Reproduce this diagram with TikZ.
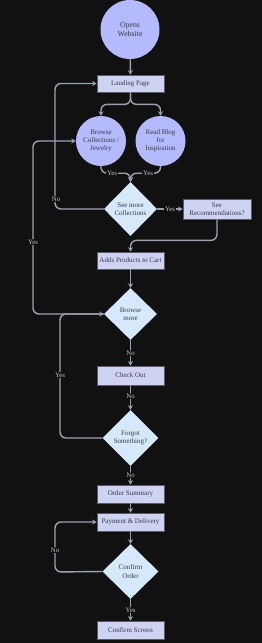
\documentclass[tikz,border=0pt]{standalone}
\usepackage{fontspec}
\setmainfont{Liberation Serif}
\usetikzlibrary{shapes.geometric,arrows.meta,calc}
\definecolor{bg}{HTML}{111111}
\definecolor{circ}{HTML}{B4BAFB}
\definecolor{rectf}{HTML}{CDD3F1}
\definecolor{diam}{HTML}{D6E8FB}
\definecolor{edge}{HTML}{9AA2B2}
\definecolor{ntext}{HTML}{3A3A4A}
\definecolor{ltext}{HTML}{C8C8C8}
\definecolor{bord}{HTML}{5A5A6A}
\tikzset{
  circnode/.style={circle,fill=circ,draw=none,text=ntext,align=center,inner sep=0pt,font=\fontsize{7}{8.3}\selectfont},
  boxnode/.style={rectangle,fill=rectf,draw=bord,line width=0.7pt,text=ntext,align=center,inner sep=1pt,minimum width=67pt,minimum height=18pt,font=\fontsize{7}{8}\selectfont},
  diamnode/.style={diamond,fill=diam,draw=none,text=ntext,align=center,inner sep=0pt,font=\fontsize{7}{8.3}\selectfont},
  arr/.style={draw=edge,line width=1.4pt,-{Stealth[length=4.5pt,width=5pt]},rounded corners=6pt},
  lbl/.style={fill=bg,text=ltext,inner sep=1pt,font=\fontsize{6.8}{8}\selectfont}
}
\begin{document}
\begin{tikzpicture}[x=1pt,y=-1pt]
\fill[bg] (0,0) rectangle (262,643);
\useasboundingbox (0,0) rectangle (262,643);
\node[circnode,minimum size=59pt,font=\fontsize{7.8}{9.5}\selectfont] (o) at (130,29.5) {Opens\\Website};
\node[boxnode,minimum height=17pt] (lp) at (130.5,83.5) {Landing Page};
\node[circnode,minimum size=50pt] (bc) at (101,141) {Browse\\Collections /\\Jewelry};
\node[circnode,minimum size=50pt] (rb) at (160.5,141) {Read Blog\\for\\Inspiration};
\node[diamnode,minimum width=53pt,minimum height=54pt] (smc) at (130.5,209) {See more\\Collections};
\node[boxnode,minimum width=68pt,minimum height=20pt] (sr) at (217,209) {See\\Recommendations?};
\node[boxnode,minimum height=17pt] (apc) at (130.5,260.5) {Adds Products to Cart};
\node[diamnode,minimum width=53pt,minimum height=52pt] (bm) at (130.5,314) {Browse\\more};
\node[boxnode,minimum height=19pt] (co) at (130.5,375.5) {Check Out};
\node[diamnode,minimum width=56pt,minimum height=56pt] (fs) at (130.5,438) {Forgot\\Something?};
\node[boxnode,minimum height=18pt] (os) at (130.5,494) {Order Summary};
\node[boxnode,minimum height=18pt] (pd) at (130.5,522) {Payment \& Delivery};
\node[diamnode,minimum width=56pt,minimum height=55pt] (cfo) at (130.5,571.5) {Confirm\\Order};
\node[boxnode,minimum height=18pt] (cs) at (130.5,630) {Confirm Screen};

\draw[arr] (o) -- (lp);
\draw[arr] (lp.south) -- ++(0,12) -| (bc.north);
\draw[arr] (lp.south) -- ++(0,12) -| (rb.north);
\draw[arr] (bc.south) -- ++(0,7) -| (smc.north);
\draw[arr] (rb.south) -- ++(0,7) -| (smc.north);
\node[lbl] (y1) at (112,173) {Yes};
\node[lbl] (y2) at (148,173) {Yes};
\draw[arr] (smc.east) -- (sr.west);
\node[lbl] (y3) at (170,209) {Yes};
\draw[arr] (sr.south) -- ++(0,21) -| (apc.north);
\draw[arr] (smc.west) -- (55,209) |- (lp.west);
\node[lbl] (n1) at (56,199) {No};
\draw[arr] (bm.west) -- (33,314) |- (bc.west);
\node[lbl] (y4) at (33,242) {Yes};
\draw[arr] (apc) -- (bm);
\draw[arr] (bm) -- (co);
\node[lbl] (n2) at (130.5,353) {No};
\draw[arr] (co) -- (fs);
\node[lbl] (n3) at (130.5,396) {No};
\draw[arr] (fs.west) -- (60,438) |- (bm.west);
\node[lbl] (y5) at (60,375) {Yes};
\draw[arr] (fs) -- (os);
\node[lbl] (n4) at (130.5,475) {No};
\draw[arr] (os) -- (pd);
\draw[arr] (pd) -- (cfo);
\draw[arr] (cfo.west) -- (55,572) |- (pd.west);
\node[lbl] (n5) at (55,550) {No};
\draw[arr] (cfo) -- (cs);
\node[lbl] (y6) at (130.5,610) {Yes};
\end{tikzpicture}
\end{document}
